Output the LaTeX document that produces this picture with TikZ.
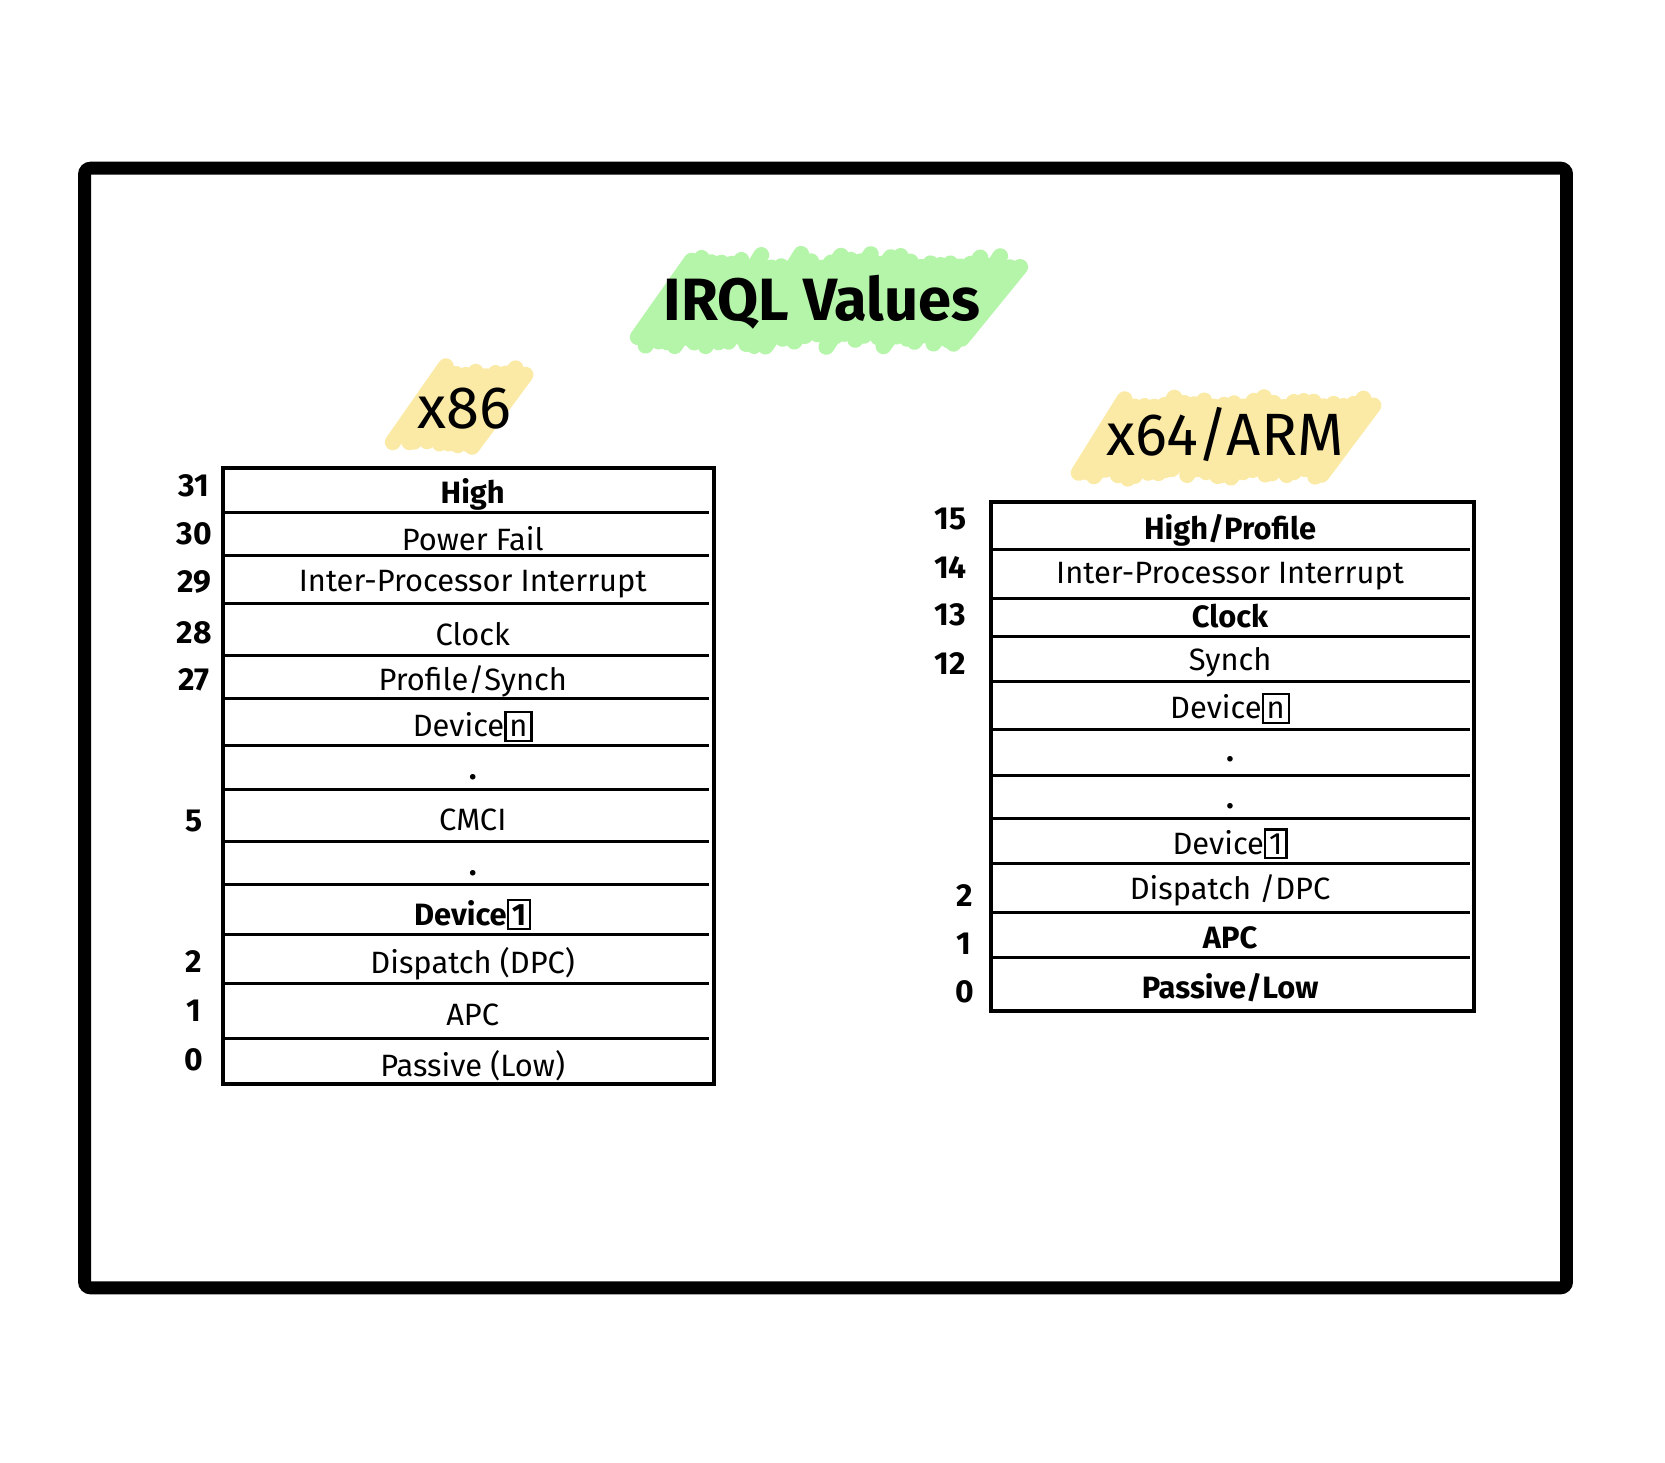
\documentclass[tikz,border=0pt]{standalone}
\usepackage{fontspec}
\setmainfont{Fira Sans}
\definecolor{mkgreen}{HTML}{B5F5A9}
\definecolor{mkyellow}{HTML}{FBEAA5}
\newcommand{\devno}[1]{{\setlength{\fboxsep}{1.4pt}\setlength{\fboxrule}{1.2pt}\fbox{\vphantom{1}#1}}}
\tikzset{
  lvl/.style={font=\fontsize{15.5}{18}\selectfont, inner sep=0pt, yshift=-2.5pt},
  lvlbold/.style={lvl, font=\fontsize{15.5}{18}\selectfont\bfseries},
  lvlnum/.style={font=\fontsize{16}{18}\selectfont\bfseries, inner sep=0pt},
  heading/.style={font=\fontsize{30}{34}\selectfont, inner sep=0pt},
  marker/.style={line width=8pt, line cap=round},
  rowline/.style={line width=1.5pt},
}
\begin{document}
\begin{tikzpicture}[x=0.5pt,y=-0.5pt]
\useasboundingbox (0,0) rectangle (1673,1470);
\pgfmathsetseed{7}
% frame
\draw [line width=6.5pt, rounded corners=3pt] (85,169) rectangle (1574,1294);
% highlighter strokes
\foreach \x in {640,650,...,975}
  \draw [marker, mkgreen] ({\x+4*rand},{342+7*rand}) -- (\x+55,{262+7*rand});
\foreach \x in {398,408,...,480}
  \draw [marker, mkyellow] ({\x+4*rand},{444+5*rand}) -- (\x+50,{373+5*rand});
\foreach \x in {1080,1090,...,1330}
  \draw [marker, mkyellow] ({\x+4*rand},{476+5*rand}) -- (\x+50,{404+5*rand});
\node [heading, font=\fontsize{30}{34}\selectfont\bfseries] (title) at (826,304) {IRQL Values};
\node [heading] (xsmall) at (467,411) {x86};
\node [heading] (xlarge) at (1231,437) {x64/ARM};

% x86 table
\draw [line width=2pt] (224,470) rectangle (717,1089);
\foreach \y in {515,558,606,659,702,749,793,846,889,939,988,1043}
  \draw [rowline] (226,\y) -- (712,\y);
\node [lvlbold] (lhigh) at (475,492) {High};
\node [lvl] (lpower) at (475,536) {Power Fail};
\node [lvl] (lipi) at (475,582) {Inter-Processor Interrupt};
\node [lvl] (lclock) at (475,632) {Clock};
\node [lvl] (lprof) at (475,680) {Profile/Synch};
\node [lvl] (ldevn) at (475,725) {Device\devno{n}};
\node [lvlbold] (ldota) at (475,776) {.};
\node [lvl] (lcmci) at (475,819) {CMCI};
\node [lvlbold] (ldotb) at (475,872) {.};
\node [lvlbold] (ldevone) at (475,914) {Device\devno{1}};
\node [lvl] (ldisp) at (475,963) {Dispatch (DPC)};
\node [lvl] (lapc) at (475,1015) {APC};
\node [lvl] (lpass) at (475,1066) {Passive (Low)};
\node [lvlnum] (lnhigh) at (195,488) {31};
\node [lvlnum] (lnpower) at (195,536) {30};
\node [lvlnum] (lnipi) at (195,585) {29};
\node [lvlnum] (lnclock) at (195,636) {28};
\node [lvlnum] (lnprof) at (195,683) {27};
\node [lvlnum] (lncmci) at (195,825) {5};
\node [lvlnum] (lndisp) at (195,966) {2};
\node [lvlnum] (lnapc) at (195,1016) {1};
\node [lvlnum] (lnpass) at (195,1065) {0};

% x64/ARM table
\draw [line width=2pt] (996,504) rectangle (1481,1016);
\foreach \y in {552,601,640,685,733,779,822,868,917,962}
  \draw [rowline] (998,\y) -- (1477,\y);
\node [lvlbold] (rhigh) at (1236,528) {High/Profile};
\node [lvl] (ripi) at (1236,574) {Inter-Processor Interrupt};
\node [lvlbold] (rclock) at (1236,614) {Clock};
\node [lvl] (rsynch) at (1236,660) {Synch};
\node [lvl] (rdevn) at (1236,707) {Device\devno{n}};
\node [lvlbold] (rdota) at (1236,758) {.};
\node [lvlbold] (rdotb) at (1236,805) {.};
\node [lvl] (rdevone) at (1236,843) {Device\devno{1}};
\node [lvl] (rdisp) at (1236,890) {Dispatch /DPC};
\node [lvlbold] (rapc) at (1236,937) {APC};
\node [lvlbold] (rpass) at (1236,987) {Passive/Low};
\node [lvlnum] (rnhigh) at (955,521) {15};
\node [lvlnum] (rnipi) at (955,570) {14};
\node [lvlnum] (rnclock) at (955,618) {13};
\node [lvlnum] (rnsynch) at (955,667) {12};
\node [lvlnum] (rndisp) at (969,900) {2};
\node [lvlnum] (rnapc) at (969,948) {1};
\node [lvlnum] (rnpass) at (969,997) {0};
\end{tikzpicture}
\end{document}
